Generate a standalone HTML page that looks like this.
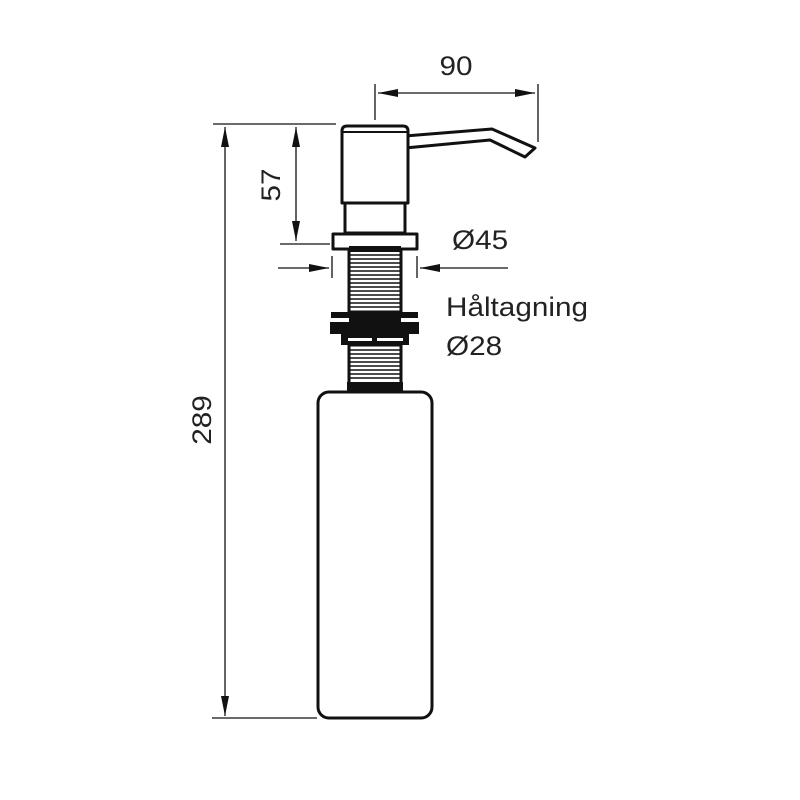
<!DOCTYPE html>
<html><head><style>body{margin:0;background:#fff}svg{display:block}text{font-family:"Liberation Sans",sans-serif;fill:#222}</style></head><body>
<svg width="800" height="800" viewBox="0 0 800 800" xmlns="http://www.w3.org/2000/svg">
<defs>
<marker id="b" viewBox="0 0 20 10" refX="20" refY="5" markerWidth="20" markerHeight="10" markerUnits="userSpaceOnUse" orient="auto-start-reverse"><path d="M0,1 L20,5 L0,9z" fill="#111"/></marker>
</defs>
<g stroke="#111" stroke-width="1.3" fill="none">
<line x1="213" y1="124" x2="336" y2="124"/>
<line x1="212" y1="718" x2="317" y2="718"/>
<line x1="225" y1="127" x2="225" y2="716" marker-start="url(#b)" marker-end="url(#b)"/>
<line x1="296" y1="127" x2="296" y2="241" marker-start="url(#b)" marker-end="url(#b)"/>
<line x1="280" y1="244" x2="330" y2="244"/>
<line x1="375" y1="84" x2="375" y2="120"/>
<line x1="538" y1="84" x2="538" y2="142"/>
<line x1="378" y1="93" x2="535" y2="93" marker-start="url(#b)" marker-end="url(#b)"/>
<line x1="332" y1="256" x2="332" y2="278"/>
<line x1="417" y1="256" x2="417" y2="278"/>
<line x1="278" y1="268" x2="329" y2="268" marker-end="url(#b)"/>
<line x1="508" y1="268" x2="420" y2="268" marker-end="url(#b)"/>
</g>
<g stroke="#111" stroke-width="3" fill="#fff" stroke-linejoin="round">
<path d="M405,136 L492,129 L535,148 L525,157 L490,140 L405,148z" stroke-width="3"/>
<path d="M342,203 L342,131 Q342,126 347,126 L403,126 Q408,126 408,131 L408,203z"/>
<line x1="343" y1="132" x2="407" y2="132" stroke-width="2"/>
<rect x="345" y="203" width="60" height="30"/>
<rect x="333" y="234" width="84" height="15"/>
<rect x="349" y="250" width="52" height="62" fill="#fff"/>
<rect x="349" y="345" width="52" height="45" fill="#fff"/>
</g>
<g stroke="#111" stroke-width="1.5">
<line x1="350" y1="255" x2="400" y2="255"/><line x1="350" y1="259" x2="400" y2="259"/><line x1="350" y1="263" x2="400" y2="263"/><line x1="350" y1="267" x2="400" y2="267"/><line x1="350" y1="271" x2="400" y2="271"/><line x1="350" y1="275" x2="400" y2="275"/><line x1="350" y1="279" x2="400" y2="279"/><line x1="350" y1="283" x2="400" y2="283"/><line x1="350" y1="287" x2="400" y2="287"/><line x1="350" y1="291" x2="400" y2="291"/><line x1="350" y1="295" x2="400" y2="295"/><line x1="350" y1="299" x2="400" y2="299"/><line x1="350" y1="303" x2="400" y2="303"/><line x1="350" y1="307" x2="400" y2="307"/>
<line x1="350" y1="350" x2="400" y2="350"/><line x1="350" y1="354" x2="400" y2="354"/><line x1="350" y1="358" x2="400" y2="358"/><line x1="350" y1="362" x2="400" y2="362"/><line x1="350" y1="366" x2="400" y2="366"/><line x1="350" y1="370" x2="400" y2="370"/><line x1="350" y1="374" x2="400" y2="374"/><line x1="350" y1="378" x2="400" y2="378"/>
</g>
<g fill="#111">
<rect x="331" y="312" width="87" height="6"/>
<rect x="349" y="318" width="52" height="4"/>
<rect x="330" y="322" width="89" height="12"/>
<rect x="341" y="334" width="68" height="11"/>
<rect x="347" y="382" width="56" height="9"/>
<rect x="349" y="246" width="52" height="6"/>
</g>
<rect x="348" y="338" width="24" height="3" fill="#fff"/><rect x="377" y="338" width="26" height="3" fill="#fff"/>
<rect x="318" y="392" width="114" height="326" rx="11" fill="#fff" stroke="#111" stroke-width="3"/>
<g font-size="27">
<text transform="translate(456 75) scale(1.1 1)" text-anchor="middle">90</text>
<text transform="translate(280 185) rotate(-90) scale(1.1 1)" text-anchor="middle">57</text>
<text transform="translate(211 420) rotate(-90) scale(1.1 1)" text-anchor="middle">289</text>
<text transform="translate(452 249) scale(1.1 1)">Ø45</text>
<text transform="translate(446 316) scale(1.1 1)">Håltagning</text>
<text transform="translate(446 355) scale(1.1 1)">Ø28</text>
</g>
</svg>
</body></html>
